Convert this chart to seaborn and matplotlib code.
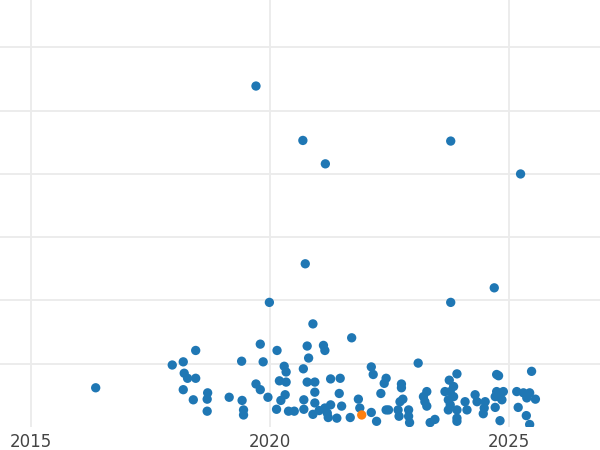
import pandas as pd
import seaborn as sns
import matplotlib
matplotlib.use('Agg')
import matplotlib.pyplot as plt

# decimal year of each point
years = [
    2019.71, 2020.69, 2023.78, 2021.16, 2025.24, 2020.74, 2024.69, 2019.99, 2023.78, 2020.90, 2021.71,
    2016.36, 2017.96, 2018.19, 2018.45, 2018.21, 2018.28, 2018.45, 2018.19, 2018.40, 2018.70,
    2018.69, 2018.69, 2019.15, 2019.41, 2019.42, 2019.45, 2019.45, 2019.80, 2019.86, 2019.71,
    2019.80, 2019.96, 2020.15, 2020.30, 2020.34, 2020.20, 2020.34, 2020.32, 2020.23, 2020.14,
    2020.39, 2020.51,
    2020.78, 2020.81, 2021.12, 2021.15, 2020.70, 2020.78, 2020.94, 2020.94, 2021.27, 2021.47,
    2021.45, 2020.71, 2020.71, 2020.94, 2020.90, 2021.03, 2021.15, 2021.27, 2021.22, 2021.20,
    2021.40, 2021.50, 2021.68, 2021.85, 2021.88, 2021.92, 2022.12, 2022.16, 2022.12, 2022.23,
    2022.32, 2022.43, 2022.39, 2022.43, 2022.48, 2022.70, 2022.75, 2022.75, 2022.78, 2022.72,
    2022.68, 2022.90, 2022.90, 2022.92, 2023.10, 2023.28, 2023.21, 2023.24, 2023.28, 2023.35,
    2023.45, 2023.91, 2023.75, 2023.66, 2023.77, 2023.84, 2023.73, 2023.77, 2023.73, 2023.84,
    2023.91, 2023.91, 2023.91, 2024.08, 2024.12, 2024.29, 2024.33, 2024.50, 2024.48, 2024.46,
    2024.78, 2024.74, 2024.74, 2024.88, 2024.78, 2024.71, 2024.85, 2024.71, 2024.81, 2025.47,
    2025.16, 2025.30, 2025.43, 2025.37, 2025.55, 2025.19, 2025.36, 2025.43,
]
values = [
    539, 453, 452, 416, 400, 258, 220, 197, 197, 163, 141,
    62, 98, 103, 121, 85, 77, 77, 59, 43, 54,
    44, 25, 47, 104, 42, 27, 19, 131, 103, 68,
    59, 47, 121, 96, 87, 73, 71, 51, 42, 28,
    25, 25,
    128, 109, 129, 121, 92, 71, 71, 55, 76, 77,
    53, 43, 28, 38, 20, 26, 30, 35, 15, 22,
    14, 33, 15, 44, 30, 19, 95, 83, 23, 9,
    53, 77, 69, 27, 27, 17, 68, 62, 44, 40,
    27, 27, 17, 7, 101, 56, 48, 40, 33, 7,
    12, 84, 74, 56, 56, 64, 43, 35, 27, 48,
    27, 14, 9, 40, 27, 51, 40, 40, 30, 21,
    81, 83, 56, 56, 48, 48, 43, 31, 10, 88,
    56, 54, 54, 46, 44, 31, 18, 4,
]
highlight_year = 2021.92
highlight_value = 19

df = pd.DataFrame({'year': years, 'value': values})
df['group'] = 'other'
df.loc[(df['year'] == highlight_year) & (df['value'] == highlight_value), 'group'] = 'highlight'
df = df.sort_values('group', ascending=False)  # orange drawn last

sns.set_style('white')
fig = plt.figure(figsize=(6, 4.5), dpi=100)
ax = fig.add_axes([0, 23 / 450, 1, 427 / 450])

sns.scatterplot(data=df, x='year', y='value', hue='group',
                palette={'other': '#1f77b4', 'highlight': '#ff7f0e'},
                s=45, linewidth=0, alpha=1, legend=False, ax=ax)

ax.set_xlim(2014.36, 2026.90)
ax.set_ylim(0, 675)
ax.set_xticks([2015, 2020, 2025])
ax.set_yticks([100, 200, 300, 400, 500, 600])
ax.grid(True, color='#ebebeb', linewidth=1.3)
ax.set_axisbelow(True)
ax.tick_params(axis='x', length=0, pad=4, labelsize=12, labelcolor='#444444')
ax.tick_params(axis='y', length=0, labelleft=False)
ax.set_xlabel('')
ax.set_ylabel('')
for s in ax.spines.values():
    s.set_visible(False)

fig.savefig('out.png', dpi=100)
